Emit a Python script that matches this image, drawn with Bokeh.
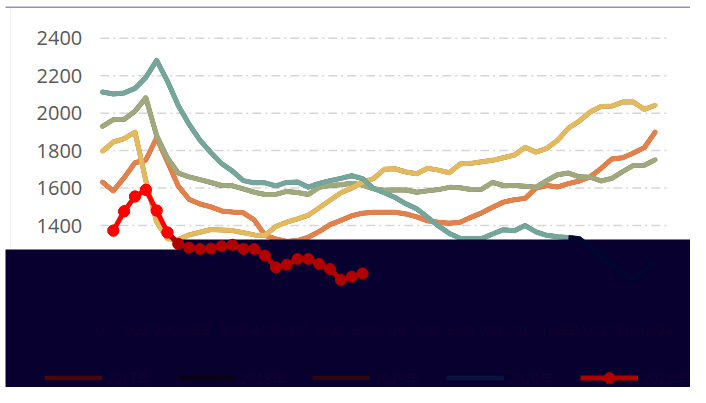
from bokeh.plotting import figure
from bokeh.models import Range1d, FixedTicker, BoxAnnotation, Legend, LegendItem
from bokeh.embed import file_html
from bokeh.resources import INLINE

# ---------------- data ----------------
weeks = list(range(1, 53))
week_labels = ["1/1", "1/8", "1/15", "1/22", "1/29", "2/5", "2/12", "2/19", "2/26", "3/5",
               "3/12", "3/19", "3/26", "4/2", "4/9", "4/16", "4/23", "4/30", "5/7", "5/14",
               "5/21", "5/28", "6/4", "6/11", "6/18", "6/25", "7/2", "7/9", "7/16", "7/23",
               "7/30", "8/6", "8/13", "8/20", "8/27", "9/3", "9/10", "9/17", "9/24", "10/1",
               "10/8", "10/15", "10/22", "10/29", "11/5", "11/12", "11/19", "11/26", "12/3", "12/10",
               "12/17", "12/24"]
y_ticks = [1000, 1200, 1400, 1600, 1800, 2000, 2200, 2400]
series_names = ["2017年", "2018年", "2019年", "2020年", "2021年"]

s2017 = [1632, 1585, 1655, 1735, 1750, 1868, 1740, 1610, 1540, 1515,
         1500, 1478, 1472, 1468, 1430, 1348, 1329, 1315, 1320, 1338,
         1368, 1405, 1428, 1452, 1466, 1471, 1471, 1471, 1462, 1446,
         1425, 1418, 1412, 1418, 1444, 1468, 1498, 1525, 1538, 1545,
         1600, 1614, 1606, 1624, 1638, 1660, 1705, 1755, 1762, 1787,
         1816, 1899]
s2018 = [1929, 1965, 1967, 2010, 2083, 1880, 1760, 1680, 1660, 1645,
         1630, 1614, 1612, 1596, 1578, 1566, 1566, 1582, 1576, 1566,
         1604, 1614, 1618, 1626, 1616, 1596, 1589, 1590, 1590, 1578,
         1585, 1592, 1604, 1602, 1592, 1594, 1630, 1614, 1614, 1610,
         1605, 1640, 1671, 1680, 1660, 1658, 1638, 1652, 1688, 1721,
         1722, 1751]
s2019 = [1797, 1846, 1864, 1899, 1640, 1420, 1330, 1325, 1350, 1364,
         1379, 1376, 1373, 1362, 1350, 1348, 1395, 1418, 1436, 1455,
         1495, 1535, 1575, 1600, 1630, 1650, 1700, 1703, 1686, 1676,
         1706, 1696, 1682, 1728, 1732, 1741, 1748, 1762, 1776, 1818,
         1792, 1812, 1855, 1920, 1958, 2006, 2036, 2038, 2059, 2059,
         2020, 2042]
s2020 = [2113, 2102, 2108, 2132, 2190, 2282, 2170, 2040, 1940, 1855,
         1790, 1730, 1690, 1640, 1628, 1628, 1612, 1630, 1632, 1605,
         1625, 1640, 1652, 1666, 1650, 1598, 1575, 1550, 1516, 1489,
         1444, 1398, 1358, 1332, 1330, 1330, 1355, 1378, 1372, 1400,
         1366, 1348, 1340, 1336, 1330, 1282, 1235, 1190, 1150, 1115,
         1160, 1213]
weeks2021 = list(range(2, 26))
s2021 = [1373, 1476, 1555, 1591, 1480, 1363, 1302, 1282, 1275, 1277,
         1290, 1297, 1275, 1275, 1240, 1177, 1191, 1222, 1222, 1195,
         1168, 1110, 1127, 1145]

colors = ["#E2824A", "#A0A97E", "#E3BA5E", "#74A79A", "#FF0000"]
dim_colors = ["#4a0608", "#0a0210", "#2e060e", "#0a1240", "#b00000"]
navy = "#08002f"
faint_text = "#14022e"

# plot-area extent in data units (where the axes sit)
X_LO, X_HI = 0.8, 53.4
Y_LO = 1000

# ---------------- figure ----------------
p = figure(width=690, height=387, output_backend="svg", toolbar_location=None,
           x_range=Range1d(-8.41, 55.26), y_range=Range1d(535.6, 2601.2),
           min_border=0, min_border_left=0, min_border_right=0,
           min_border_top=0, min_border_bottom=0,
           background_fill_color="white", border_fill_color="white", outline_line_color=None)

p.xgrid.visible = False
p.ygrid.visible = False
# dash-dot horizontal grid limited to the plot area
p.segment(x0=[X_LO] * len(y_ticks), x1=[X_HI] * len(y_ticks), y0=y_ticks, y1=y_ticks,
          line_color="#d6d6d6", line_width=1.5, line_dash="9 4 2 4", level="underlay")

p.yaxis.fixed_location = X_LO
p.yaxis.ticker = FixedTicker(ticks=y_ticks)
p.yaxis.major_label_text_font = "Open Sans"
p.yaxis.major_label_text_font_size = "20px"
p.yaxis.major_label_text_color = "#595959"
p.yaxis.axis_line_color = None
p.yaxis.major_tick_line_color = None
p.yaxis.minor_tick_line_color = None
p.yaxis.major_tick_out = 0
p.yaxis.major_tick_in = 0
p.yaxis.major_label_standoff = 18

x_tick_pos = weeks[::3]
p.xaxis.fixed_location = Y_LO
p.xaxis.ticker = FixedTicker(ticks=x_tick_pos)
p.xaxis.major_label_overrides = {w: week_labels[w - 1] for w in x_tick_pos}
p.xaxis.major_label_text_font = "Open Sans"
p.xaxis.major_label_text_font_size = "13px"
p.xaxis.major_label_text_color = faint_text
p.xaxis.axis_line_color = None
p.xaxis.major_tick_line_color = None
p.xaxis.minor_tick_line_color = None
p.xaxis.major_tick_out = 0
p.xaxis.major_tick_in = 0
p.xaxis.major_label_standoff = 21
p.xaxis.level = "overlay"

# border of the chart area
p.add_layout(BoxAnnotation(left=10, right=720, top=7, bottom=300,
                           left_units="canvas", right_units="canvas",
                           top_units="canvas", bottom_units="canvas",
                           fill_alpha=0, line_color="#d9d9d9", line_width=1, level="underlay"))
p.add_layout(BoxAnnotation(left=5, right=720, top=6, bottom=7.5,
                           left_units="canvas", right_units="canvas",
                           top_units="canvas", bottom_units="canvas",
                           fill_color="#8f8fc4", fill_alpha=1, line_color=None, level="underlay"))

# dim copies (only used for the legend keys; hidden under the bright lines)
all_series = [s2017, s2018, s2019, s2020]
leg_renderers = []
for vals, c in zip(all_series, dim_colors[:4]):
    leg_renderers.append([p.line(weeks, vals, line_color=c, line_width=4.5, level="underlay")])

# main series
for vals, c in zip(all_series, colors[:4]):
    p.line(weeks, vals, line_color=c, line_width=5, line_join="round", line_cap="round")
p.line(weeks2021, s2021, line_color=colors[4], line_width=5, line_join="round")
p.scatter(weeks2021, s2021, size=11, fill_color=colors[4], line_color=colors[4])

# dark covering boxes
p.add_layout(BoxAnnotation(left=5, right=720, top=249, bottom=420,
                           left_units="canvas", right_units="canvas",
                           top_units="canvas", bottom_units="canvas",
                           fill_color=navy, fill_alpha=1, line_color=None, level="annotation"))
p.add_layout(BoxAnnotation(left=177, right=720, top=239, bottom=420,
                           left_units="canvas", right_units="canvas",
                           top_units="canvas", bottom_units="canvas",
                           fill_color=navy, fill_alpha=1, line_color=None, level="annotation"))

# faint parts seen through the dark box
p.line(weeks[43:], s2020[43:], line_color="#000630", line_width=5, line_join="round", level="overlay")
r_l = p.line(weeks2021[5:], s2021[5:], line_color=dim_colors[4], line_width=5,
             line_join="round", level="overlay")
r_s = p.scatter(weeks2021[6:], s2021[6:], size=11, fill_color=dim_colors[4],
                line_color=dim_colors[4], level="overlay")
p.scatter(weeks2021[:6], s2021[:6], size=11, fill_color=colors[4], line_color=colors[4], level="overlay")
leg_renderers.append([r_l, r_s])

# legend (dim, drawn over the dark box)
items = [LegendItem(label=n, renderers=r) for n, r in zip(series_names, leg_renderers)]
legend = Legend(items=items, orientation="horizontal", location=(44, -4), level="overlay",
                background_fill_alpha=0, border_line_color=None,
                glyph_width=58, glyph_height=27, label_text_font="Noto Sans CJK SC",
                label_text_font_size="14px", label_text_color=faint_text,
                spacing=27, label_standoff=4, padding=0, margin=0)
p.add_layout(legend, "center")

open("out.html", "w").write(file_html(p, INLINE))
